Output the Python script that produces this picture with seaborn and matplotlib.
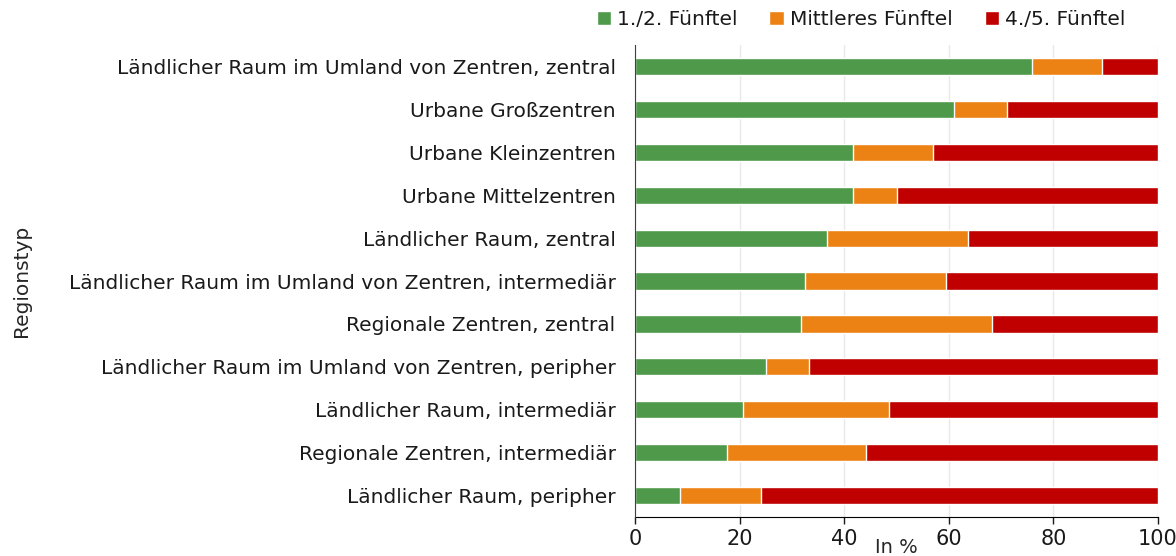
import pandas as pd
import seaborn as sns
import matplotlib.pyplot as plt

# Anteile je Regionstyp (in %)
regions = [
    'Ländlicher Raum im Umland von Zentren, zentral',
    'Urbane Großzentren',
    'Urbane Kleinzentren',
    'Urbane Mittelzentren',
    'Ländlicher Raum, zentral',
    'Ländlicher Raum im Umland von Zentren, intermediär',
    'Regionale Zentren, zentral',
    'Ländlicher Raum im Umland von Zentren, peripher',
    'Ländlicher Raum, intermediär',
    'Regionale Zentren, intermediär',
    'Ländlicher Raum, peripher',
]
low = [76.0, 60.9, 41.7, 41.6, 36.7, 32.5, 31.7, 25.0, 20.6, 17.6, 8.6]
mid = [13.3, 10.2, 15.3, 8.4, 27.0, 27.0, 36.6, 8.3, 27.9, 26.6, 15.5]
high = [10.7, 28.9, 43.0, 50.0, 36.3, 40.5, 31.7, 66.7, 51.5, 55.8, 75.9]
series = ['1./2. Fünftel', 'Mittleres Fünftel', '4./5. Fünftel']
colors = ['#4E9A4A', '#ED8214', '#C00000']

df = pd.DataFrame({'Regionstyp': regions, series[0]: low, series[1]: mid, series[2]: high})
# kumulierte Summen fuer gestapelte Balken
df['c0'] = df[series[0]]
df['c1'] = df['c0'] + df[series[1]]
df['c2'] = df['c1'] + df[series[2]]

sns.set_style('white')
plt.rcParams['font.family'] = ['DejaVu Sans']
plt.rcParams['text.color'] = '#1a1a1a'

fig = plt.figure(figsize=(11.76, 5.56), dpi=100)
ax = fig.add_axes([0.54, 0.07, 0.4447, 0.849])

for col, name, color in zip(['c2', 'c1', 'c0'], series[::-1], colors[::-1]):
    sns.barplot(data=df, y='Regionstyp', x=col, color=color, orient='h', saturation=1,
                width=0.4, ax=ax, label=name, zorder=3)

ax.set_xlim(0, 100)
ax.set_xticks([0, 20, 40, 60, 80, 100])
ax.grid(axis='x', color='#E8E8E8', linewidth=1, zorder=0)
ax.set_axisbelow(True)
for s in ['top', 'right']:
    ax.spines[s].set_visible(False)
ax.spines['left'].set_color('#404040')
ax.spines['left'].set_zorder(5)
ax.spines['bottom'].set_color('black')
ax.tick_params(axis='x', length=5, width=1, colors='#1a1a1a', labelsize=15, direction='out', bottom=True)
ax.tick_params(axis='y', length=0, labelsize=14.5, pad=14, colors='#1a1a1a')
ax.set_xlabel('In %', fontsize=14, labelpad=-8)
ax.set_ylabel('Regionstyp', fontsize=14.5)
ax.yaxis.set_label_coords(-1.155, 0.5)

handles, labels = ax.get_legend_handles_labels()
if ax.get_legend():
    ax.get_legend().remove()
order = [labels.index(s) for s in series]
fig.legend([handles[i] for i in order], [labels[i] for i in order],
           loc='upper center', bbox_to_anchor=(0.732, 1.015), ncol=3, frameon=False,
           fontsize=14.5, handlelength=0.7, handleheight=0.7, handletextpad=0.3, columnspacing=1.6)

fig.savefig('out.png', dpi=100)
